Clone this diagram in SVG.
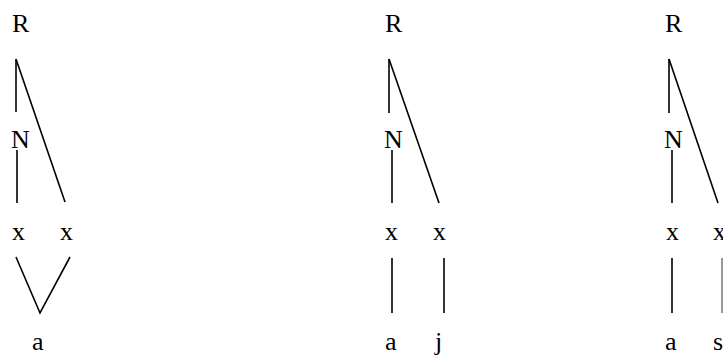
<svg xmlns="http://www.w3.org/2000/svg" width="723" height="358" viewBox="0 0 723 358">
<style>
text{font-family:"Liberation Serif","Times New Roman",serif;font-size:26px;fill:#000}
.c line,.c polyline{stroke:#000;stroke-width:1.6;fill:none}
</style>
<rect width="723" height="358" fill="#fff"/>
<g class="c" id="connectors">
<line x1="16" y1="59" x2="16" y2="112"/>
<line x1="16" y1="59" x2="65" y2="202"/>
<line x1="17" y1="150" x2="17" y2="203"/>
<polyline points="16,257 40,313 70,257"/>
<line x1="389" y1="59" x2="389" y2="113"/>
<line x1="389" y1="59" x2="439" y2="203"/>
<line x1="392" y1="150" x2="392" y2="203"/>
<line x1="392" y1="258" x2="392" y2="313"/>
<line x1="444" y1="258" x2="444" y2="313"/>
<line x1="669" y1="59" x2="669" y2="113"/>
<line x1="669" y1="59" x2="718" y2="203"/>
<line x1="672" y1="150" x2="672" y2="203"/>
<line x1="672" y1="258" x2="672" y2="313"/>
<line x1="722" y1="258" x2="722" y2="313" stroke-opacity="0.5"/>
</g>
<g id="R1"><text x="12" y="32">R</text></g>
<g id="N1"><text x="11" y="148">N</text></g>
<g id="x1a"><text x="12" y="240">x</text></g>
<g id="x1b"><text x="60" y="240">x</text></g>
<g id="a1"><text x="32" y="350">a</text></g>
<g id="R2"><text x="385" y="32">R</text></g>
<g id="N2"><text x="384" y="148">N</text></g>
<g id="x2a"><text x="385" y="240">x</text></g>
<g id="x2b"><text x="433" y="240">x</text></g>
<g id="a2"><text x="385" y="350">a</text></g>
<g id="j2"><text x="435" y="350">j</text></g>
<g id="R3"><text x="665" y="32">R</text></g>
<g id="N3"><text x="664" y="148">N</text></g>
<g id="x3a"><text x="666" y="240">x</text></g>
<g id="x3b"><text x="713" y="240">x</text></g>
<g id="a3"><text x="665" y="350">a</text></g>
<g id="s3"><text x="713" y="350">s</text></g>
</svg>
